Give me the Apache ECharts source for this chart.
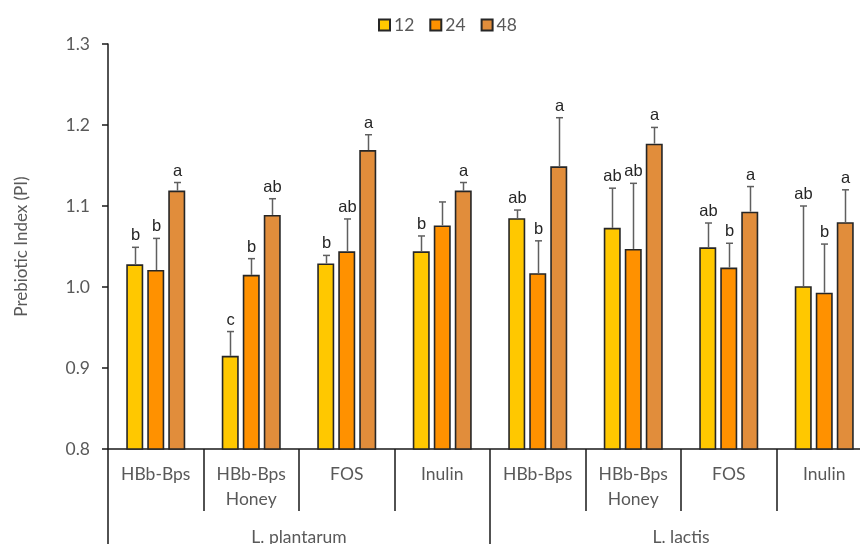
<!DOCTYPE html>
<html>
<head>
<meta charset="utf-8">
<script src="https://cdn.jsdelivr.net/npm/echarts@6/dist/echarts.min.js"></script>
<style>
  html, body { margin: 0; padding: 0; background: #fff; }
  #chart { width: 860px; height: 544px; }
</style>
</head>
<body>
<div id="chart"></div>
<script>
// Treatments (inner axis) and strains (outer axis)
const categories = ['HBb-Bps', 'HBb-Bps\nHoney', 'FOS', 'Inulin', 'HBb-Bps', 'HBb-Bps\nHoney', 'FOS', 'Inulin'];
const strains = ['L. plantarum', 'L. lactis'];
const seriesNames = ['12', '24', '48'];

// Mean prebiotic index per time point (h)
const pi12 = [1.028, 0.915, 1.029, 1.044, 1.085, 1.073, 1.049, 1.001];
const pi24 = [1.021, 1.015, 1.044, 1.076, 1.017, 1.047, 1.024, 0.993];
const pi48 = [1.119, 1.089, 1.169, 1.119, 1.149, 1.177, 1.093, 1.080];

// Standard deviations (upper error bars)
const sd12 = [0.021, 0.030, 0.010, 0.019, 0.010, 0.049, 0.030, 0.099];
const sd24 = [0.039, 0.020, 0.040, 0.029, 0.040, 0.081, 0.030, 0.060];
const sd48 = [0.010, 0.020, 0.019, 0.010, 0.060, 0.020, 0.031, 0.040];

// Significance letters
const sig12 = ['b', 'c', 'b', 'b', 'ab', 'ab', 'ab', 'ab'];
const sig24 = ['b', 'b', 'ab', '', 'b', 'ab', 'b', 'b'];
const sig48 = ['a', 'ab', 'a', 'a', 'a', 'a', 'a', 'a'];

// Y axis range and ticks
const yMin = 0.8, yMax = 1.3, yStep = 0.1;

const means = [pi12, pi24, pi48];
const sds = [sd12, sd24, sd48];
const sigs = [sig12, sig24, sig48];
const colors = ['#FFC800', '#FF9100', '#E18D3B'];

const BAR_W = 17, BAR_GAP = 4;
const textColor = '#595959';
const fontFamily = 'Lato, "Open Sans", sans-serif';
const fs = 17.5;

const chart = echarts.init(document.getElementById('chart'), null, { renderer: 'canvas' });

const barSeries = seriesNames.map((name, i) => ({
  name: name,
  type: 'bar',
  xAxisIndex: 0,
  data: means[i],
  barWidth: BAR_W,
  barGap: (BAR_GAP / BAR_W * 100) + '%',
  itemStyle: { color: colors[i], borderColor: '#262626', borderWidth: 1.6 },
  emphasis: { disabled: true },
  z: 2
}));

// Upper error bars with significance letters
const errSeries = seriesNames.map((name, i) => ({
  type: 'custom',
  xAxisIndex: 0,
  silent: true,
  z: 3,
  data: means[i].map((m, k) => [k, m, m + sds[i][k]]),
  renderItem: function (params, api) {
    const k = api.value(0);
    const base = api.coord([k, api.value(1)]);
    const top = api.coord([k, api.value(2)]);
    const x = Math.round(base[0] + (i - 1) * (BAR_W + BAR_GAP)) + 0.5;
    const cap = 3.5;
    const children = [
      { type: 'line', shape: { x1: x, y1: base[1], x2: x, y2: top[1] },
        style: { stroke: '#5f5f5f', lineWidth: 1.5 } },
      { type: 'line', shape: { x1: x - cap, y1: top[1], x2: x + cap, y2: top[1] },
        style: { stroke: '#5f5f5f', lineWidth: 1.5 } }
    ];
    const letter = sigs[i][k];
    if (letter) {
      children.push({
        type: 'text',
        style: {
          x: x, y: top[1] - 3,
          text: letter,
          fill: '#262626',
          font: '16.5px "Liberation Sans", Arial, sans-serif',
          textAlign: 'center',
          textVerticalAlign: 'bottom'
        }
      });
    }
    return { type: 'group', children: children };
  }
}));

chart.setOption({
  animation: false,
  backgroundColor: '#ffffff',
  textStyle: { fontFamily: fontFamily },
  legend: {
    data: seriesNames,
    top: 11,
    left: 373,
    itemWidth: 11,
    itemHeight: 11,
    itemGap: 15,
    icon: 'rect',
    textStyle: { color: textColor, fontSize: fs, fontFamily: fontFamily, padding: [0, 0, 0, -1] }
  },
  grid: { left: 108, top: 44, width: 764, height: 405, containLabel: false, outerBoundsMode: 'none' },
  xAxis: [
    {
      type: 'category',
      data: categories,
      position: 'bottom',
      axisLine: { show: true, lineStyle: { color: '#1a1a1a', width: 1.5 } },
      axisTick: { show: true, length: 62, interval: 0, lineStyle: { color: '#1a1a1a', width: 1.5 } },
      axisLabel: {
        interval: 0, margin: 13, color: textColor, fontSize: fs,
        lineHeight: 25, fontFamily: fontFamily
      },
      splitLine: { show: false }
    },
    {
      type: 'category',
      data: strains,
      position: 'bottom',
      axisLine: { show: false },
      axisTick: { show: true, length: 96, interval: 0, lineStyle: { color: '#1a1a1a', width: 1.5 } },
      axisLabel: { interval: 0, margin: 78, color: textColor, fontSize: fs, lineHeight: 20, fontFamily: fontFamily },
      splitLine: { show: false }
    }
  ],
  yAxis: {
    type: 'value',
    min: yMin, max: yMax, interval: yStep,
    name: 'Prebiotic Index (PI)',
    nameLocation: 'middle',
    nameGap: 78,
    nameTextStyle: { color: textColor, fontSize: 17, fontFamily: fontFamily },
    axisLine: { show: true, lineStyle: { color: '#1a1a1a', width: 1.5 } },
    axisTick: { show: true, length: 6, lineStyle: { color: '#1a1a1a', width: 1.5 } },
    axisLabel: { color: textColor, fontSize: fs, margin: 18, fontFamily: fontFamily,
      formatter: v => v.toFixed(1) },
    splitLine: { show: false }
  },
  series: barSeries.concat(errSeries)
});
</script>
</body>
</html>
